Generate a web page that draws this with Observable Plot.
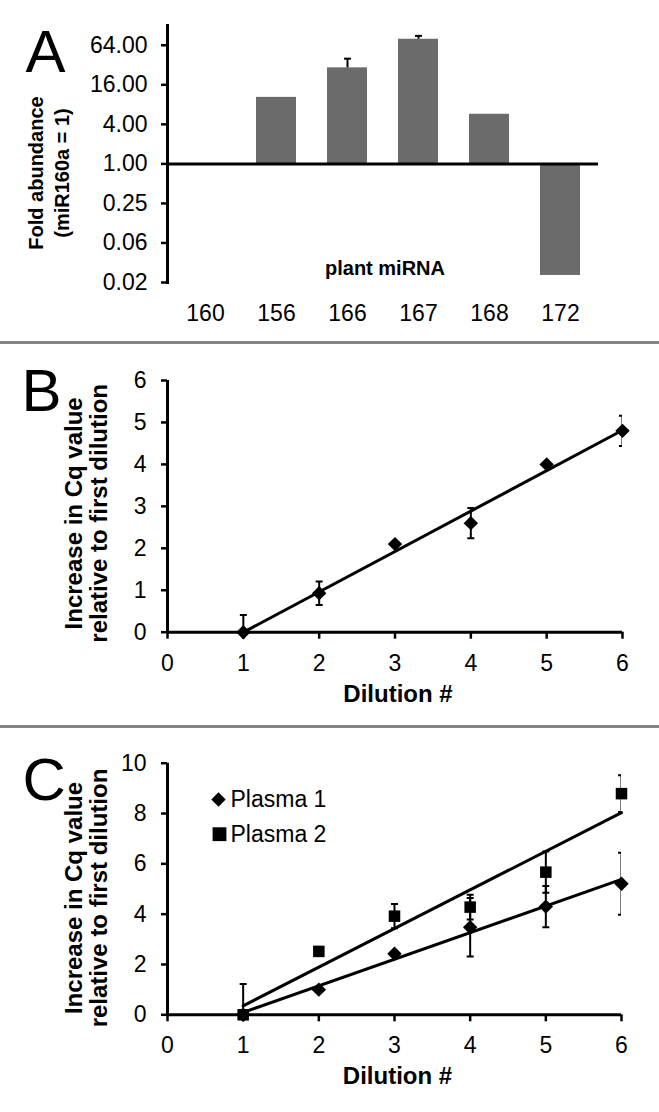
<!DOCTYPE html>
<html><head><meta charset="utf-8">
<script src="https://cdn.jsdelivr.net/npm/d3@7"></script>
<script src="https://cdn.jsdelivr.net/npm/@observablehq/plot@0.6"></script>
<style>
html,body{margin:0;padding:0;background:#fff;}
#page{position:relative;width:659px;height:1112px;overflow:hidden;font-family:"Liberation Sans",Arial,sans-serif;}
.panel{position:absolute;left:0;}
.panel svg{display:block;overflow:visible;}
.sep{position:absolute;left:0;width:659px;height:3px;background:#858585;}
</style></head><body><div id="page">
<div class="panel" id="pA" style="top:0px"></div>
<div class="panel" id="pB" style="top:343px"></div>
<div class="panel" id="pC" style="top:727px"></div>
<div class="sep" style="top:341px"></div>
<div class="sep" style="top:725px"></div>
</div>
<script>
// ---- Panel A: fold abundance of plant miRNAs (log scale, miR160a = 1)
const miRNAs = ["160", "156", "166", "167", "168", "172"];
const foldAbundance = [1, 10.3, 29, 79, 5.7, 0.02];
const foldErrorTop = [null, null, 40, 89, null, null];
const foldTicks = [64, 16, 4, 1, 0.25, 0.0625, 0.015625];

// ---- Panel B: single dilution series
const dilutionB = [1, 2, 3, 4, 5, 6];
const cqB = [0, 0.93, 2.1, 2.6, 4.0, 4.8];
const errB = [0.41, 0.28, 0.05, 0.36, 0.05, 0.36];
const ticksB = [0, 1, 2, 3, 4, 5, 6];

// ---- Panel C: two plasma series
const dilutionC = [1, 2, 3, 4, 5, 6];
const plasma1 = [0, 1.0, 2.43, 3.48, 4.3, 5.21];
const plasma1Err = [1.22, 0.05, 0.05, 1.16, 0.82, 1.23];
const plasma2 = [0, 2.52, 3.92, 4.28, 5.67, 8.79];
const plasma2Err = [0.05, 0.05, 0.48, 0.49, 0.82, 0.73];
const seriesNames = ["Plasma 1", "Plasma 2"];
const ticksCx = [0, 1, 2, 3, 4, 5, 6];
const ticksCy = [0, 2, 4, 6, 8, 10];

const FONT = "Liberation Sans, Arial, sans-serif";
const TICK_FS = 23;
const capSymbol = {draw(ctx, size) { const r = Math.sqrt(size / Math.PI); ctx.moveTo(-r, 0); ctx.lineTo(r, 0); }};
const baseStyle = {fontFamily: FONT, fontSize: "22px", background: "transparent", color: "black", overflow: "visible"};
const intFmt = d3.format("d");

// Panel A
const dataA = miRNAs.map((m, i) => ({m, v: foldAbundance[i], hi: foldErrorTop[i]}));
const plotA = Plot.plot({
  width: 659, height: 343,
  marginLeft: 167, marginRight: 61, marginTop: 25, marginBottom: 61,
  style: baseStyle,
  x: {type: "band", domain: miRNAs, paddingInner: 0.44, paddingOuter: 0.22, label: null},
  y: {type: "log", base: 2, domain: [1 / 64, 128], label: null},
  marks: [
    Plot.barY(dataA.filter(d => d.v !== 1), {x: "m", y1: 1, y2: "v", fill: "#6b6b6b"}),
    Plot.ruleX(dataA.filter(d => d.hi), {x: "m", y1: "v", y2: "hi", stroke: "black", strokeWidth: 2}),
    Plot.dot(dataA.filter(d => d.hi), {x: "m", y: "hi", symbol: capSymbol, r: 3.5, stroke: "black", strokeWidth: 2, fill: "none"}),
    Plot.ruleY([1], {stroke: "black", strokeWidth: 3}),
    Plot.frame({anchor: "left", stroke: "black", strokeWidth: 3}),
    Plot.axisY({ticks: foldTicks, tickFormat: d3.format(".2f"), tickSize: 6, tickPadding: 14, strokeWidth: 2.5, label: null, fontSize: TICK_FS}),
    Plot.axisX({tickSize: 0, tickPadding: 22, label: null, fontSize: TICK_FS}),
    Plot.text(["plant miRNA"], {frameAnchor: "bottom", dy: -14, dx: 2, fontWeight: "bold", fontSize: 20, lineAnchor: "middle"}),
    Plot.text(["Fold abundance\n(miR160a = 1)"], {frameAnchor: "left", rotate: -90, dx: -120, dy: 19, fontWeight: "bold", fontSize: 20, lineHeight: 1.3, lineAnchor: "middle", textAnchor: "middle"}),
    Plot.text(["A"], {frameAnchor: "top-left", dx: 25 - 167, dy: 71 - 25, textAnchor: "start", lineAnchor: "bottom", fontSize: 60})
  ]
});
document.getElementById("pA").appendChild(plotA);

// Panel B
const dataB = dilutionB.map((x, i) => ({x, y: cqB[i], e: errB[i]}));
const plotB = Plot.plot({
  width: 659, height: 384,
  marginLeft: 167, marginRight: 37, marginTop: 37, marginBottom: 95.3,
  style: baseStyle,
  x: {domain: [0, 6], label: null},
  y: {domain: [0, 6], label: null},
  marks: [
    Plot.ruleX(dataB, {x: "x", y1: d => d.y - d.e, y2: d => d.y + d.e, stroke: "black", strokeWidth: 2, clip: true}),
    Plot.dot(dataB, {x: "x", y: d => d.y + d.e, symbol: capSymbol, r: 3.5, stroke: "black", strokeWidth: 2, fill: "none", clip: true}),
    Plot.dot(dataB, {x: "x", y: d => d.y - d.e, symbol: capSymbol, r: 3.5, stroke: "black", strokeWidth: 2, fill: "none", clip: true}),
    Plot.linearRegressionY(dataB, {x: "x", y: "y", ci: 0, stroke: "black", strokeWidth: 3}),
    Plot.ruleY([0], {stroke: "black", strokeWidth: 3}),
    Plot.ruleX([0], {stroke: "black", strokeWidth: 3}),
    Plot.dot(dataB, {x: "x", y: "y", symbol: "diamond2", r: 6.5, fill: "black", stroke: "none"}),
    Plot.axisY({ticks: ticksB, tickFormat: intFmt, tickSize: 6, tickPadding: 15, strokeWidth: 2.5, label: null, fontSize: TICK_FS}),
    Plot.axisX({ticks: ticksB, tickFormat: intFmt, tickSize: 7, tickPadding: 15, strokeWidth: 2.5, label: null, fontSize: TICK_FS}),
    Plot.text(["Dilution #"], {frameAnchor: "bottom", dy: 62, dx: 3, fontWeight: "bold", fontSize: 24, lineAnchor: "middle"}),
    Plot.text(["Increase in Cq value\nrelative to first dilution"], {frameAnchor: "left", rotate: -90, dx: -81, dy: 7, fontWeight: "bold", fontSize: 24, lineHeight: 1.02, lineAnchor: "middle", textAnchor: "middle"}),
    Plot.text(["B"], {frameAnchor: "top-left", dx: 21 - 167, dy: 410.7 - 380, textAnchor: "start", lineAnchor: "bottom", fontSize: 60})
  ]
});
document.getElementById("pB").appendChild(plotB);

// Panel C
const dataC = [];
dilutionC.forEach((x, i) => {
  dataC.push({series: seriesNames[0], x, y: plasma1[i], e: plasma1Err[i]});
  dataC.push({series: seriesNames[1], x, y: plasma2[i], e: plasma2Err[i]});
});
const plotC = Plot.plot({
  width: 659, height: 385,
  marginLeft: 167, marginRight: 38, marginTop: 35.7, marginBottom: 97.7,
  style: baseStyle,
  x: {domain: [0, 6], label: null},
  y: {domain: [0, 10], label: null},
  symbol: {domain: seriesNames, range: ["diamond2", "square"]},
  marks: [
    Plot.ruleX(dataC, {x: "x", y1: d => d.y - d.e, y2: d => d.y + d.e, stroke: "black", strokeWidth: 2, clip: true}),
    Plot.dot(dataC, {x: "x", y: d => d.y + d.e, symbol: capSymbol, r: 3.5, stroke: "black", strokeWidth: 2, fill: "none", clip: true}),
    Plot.dot(dataC, {x: "x", y: d => d.y - d.e, symbol: capSymbol, r: 3.5, stroke: "black", strokeWidth: 2, fill: "none", clip: true}),
    Plot.linearRegressionY(dataC, {x: "x", y: "y", z: "series", ci: 0, stroke: "black", strokeWidth: 3}),
    Plot.ruleY([0], {stroke: "black", strokeWidth: 3}),
    Plot.ruleX([0], {stroke: "black", strokeWidth: 3}),
    Plot.dot(dataC, {x: "x", y: "y", symbol: "series", r: 6.5, fill: "black", stroke: "none"}),
    Plot.axisY({ticks: ticksCy, tickFormat: intFmt, tickSize: 6, tickPadding: 15, strokeWidth: 2.5, label: null, fontSize: TICK_FS}),
    Plot.axisX({ticks: ticksCx, tickFormat: intFmt, tickSize: 7, tickPadding: 15, strokeWidth: 2.5, label: null, fontSize: TICK_FS}),
    Plot.text(["Dilution #"], {frameAnchor: "bottom", dy: 62, dx: 3, fontWeight: "bold", fontSize: 24, lineAnchor: "middle"}),
    Plot.text(["Increase in Cq value\nrelative to first dilution"], {frameAnchor: "left", rotate: -90, dx: -81, dy: 9, fontWeight: "bold", fontSize: 24, lineHeight: 1.02, lineAnchor: "middle", textAnchor: "middle"}),
    Plot.text(["C"], {frameAnchor: "top-left", dx: 22 - 167, dy: 799 - 762.7, textAnchor: "start", lineAnchor: "bottom", fontSize: 60}),
    // legend
    Plot.dot([seriesNames[0]], {frameAnchor: "top-left", dx: 51, dy: 36.3, symbol: "diamond2", r: 6.5, fill: "black", stroke: "none"}),
    Plot.dot([seriesNames[1]], {frameAnchor: "top-left", dx: 52, dy: 71, symbol: "square", r: 7.8, fill: "black", stroke: "none"}),
    Plot.text([seriesNames[0]], {frameAnchor: "top-left", dx: 63, dy: 36.3, textAnchor: "start", lineAnchor: "middle", fontSize: 23}),
    Plot.text([seriesNames[1]], {frameAnchor: "top-left", dx: 63, dy: 71, textAnchor: "start", lineAnchor: "middle", fontSize: 23})
  ]
});
document.getElementById("pC").appendChild(plotC);
</script>
</body></html>
